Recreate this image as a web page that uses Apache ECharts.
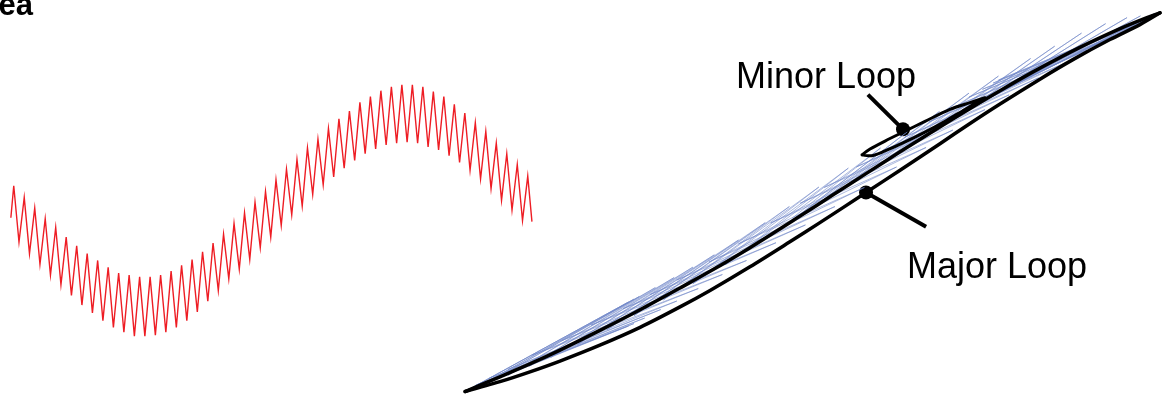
<!DOCTYPE html>
<html>
<head>
<meta charset="utf-8">
<script src="https://cdn.jsdelivr.net/npm/echarts@6/dist/echarts.min.js"></script>
<style>
  html, body { margin: 0; padding: 0; background: #ffffff; }
  #chart { width: 1163px; height: 401px; }
</style>
</head>
<body>
<div id="chart"></div>
<script>
// Sample instants (ms) of the rippled excitation: start point, then alternating ripple crests / troughs
const sampleTimes = [0.09,
  0.2,0.4,0.6,0.8,1,1.2,1.4,1.6,1.8,2,2.2,2.4,2.6,2.8,3,3.2,3.4,3.6,3.8,4,
  4.2,4.4,4.6,4.8,5,5.2,5.4,5.6,5.8,6,6.2,6.4,6.6,6.8,7,7.2,7.4,7.6,7.8,8,
  8.2,8.4,8.6,8.8,9,9.2,9.4,9.6,9.8,10,10.2,10.4,10.6,10.8,11,11.2,11.4,11.6,11.8,12,
  12.2,12.4,12.6,12.8,13,13.2,13.4,13.6,13.8,14,14.2,14.4,14.6,14.8,15,15.2,15.4,15.6,15.8,16,
  16.2,16.4,16.6,16.8,17,17.2,17.4,17.6,17.8,18,18.2,18.4,18.6,18.8,19,19.2,19.4,19.6,19.8,
  19.96];

// Normalised field H at each sample (sinusoid carrying a triangular ripple)
const fieldH = [-0.08,
  0.25,-0.33, 0.13,-0.45, 0.02,-0.56, -0.09,-0.67, -0.18,-0.77,
  -0.28,-0.88, -0.37,-0.98, -0.45,-1.06, -0.52,-1.14, -0.59,-1.21,
  -0.65,-1.26, -0.67,-1.30, -0.69,-1.30, -0.69,-1.29, -0.67,-1.26,
  -0.63,-1.21, -0.57,-1.14, -0.51,-1.05, -0.43,-0.94, -0.34,-0.83,
  -0.25,-0.71, -0.14,-0.61, -0.03,-0.51, 0.08,-0.39, 0.19,-0.28,
  0.31,-0.16, 0.42,-0.05, 0.52,0.04, 0.64,0.16, 0.73,0.26,
  0.84,0.34, 0.94,0.43, 1.02,0.51, 1.11,0.58, 1.17,0.63,
  1.23,0.67, 1.27,0.69, 1.29,0.70, 1.29,0.69, 1.27,0.65,
  1.22,0.62, 1.17,0.56, 1.09,0.49, 1.00,0.41, 0.90,0.32,
  0.81,0.22, 0.69,0.10, 0.58,0.00, 0.47,-0.11, 0.35,
  -0.12];

// Normalised flux density B reached at each of those samples (ripple-driven minor loops)
const fluxB = [-0.085,
  0.286,-0.331, 0.180,-0.431, 0.080,-0.516, -0.023,-0.600, -0.108,-0.673,
  -0.200,-0.751, -0.278,-0.819, -0.343,-0.866, -0.398,-0.914, -0.451,-0.951,
  -0.498,-0.981, -0.512,-1.000, -0.527,-1.000, -0.654,-0.989, -0.641,-0.966,
  -0.612,-0.930, -0.567,-0.883, -0.522,-0.808, -0.456,-0.731, -0.382,-0.649,
  -0.308,-0.562, -0.214,-0.488, -0.120,-0.411, -0.023,-0.316, 0.078,-0.220,
  0.186,-0.110, 0.289,-0.006, 0.381,0.078, 0.489,0.186, 0.567,0.273,
  0.657,0.343, 0.736,0.423, 0.803,0.494, 0.868,0.555, 0.908,0.596,
  0.954,0.629, 0.983,0.645, 0.998,0.586, 0.998,0.578, 0.995,0.546,
  0.984,0.521, 0.975,0.471, 0.943,0.409, 0.893,0.338, 0.824,0.258,
  0.759,0.172, 0.666,0.066, 0.576,-0.026, 0.479,-0.130, 0.372,
  -0.139];

// Major loop, descending-field (upper) branch
const majorUpperH = [-1.300,-1.170,-1.058,-0.946,-0.797,-0.647,-0.498,-0.386,-0.237,-0.050,0.073,0.196,0.323,0.446,0.569,0.696,0.845,0.994,1.144,1.237,1.293];
const majorUpperB = [-1.000,-0.922,-0.854,-0.781,-0.677,-0.568,-0.453,-0.365,-0.240,-0.073,0.039,0.151,0.266,0.375,0.482,0.589,0.708,0.818,0.917,0.971,1.000];

// Major loop, ascending-field (lower) branch
const majorLowerH = [-1.300,-1.170,-1.058,-0.946,-0.797,-0.647,-0.498,-0.386,-0.237,-0.088,0.024,0.196,0.323,0.472,0.584,0.696,0.845,0.968,1.106,1.218,1.293];
const majorLowerB = [-1.000,-0.948,-0.896,-0.839,-0.755,-0.661,-0.553,-0.466,-0.341,-0.209,-0.108,0.051,0.169,0.309,0.416,0.519,0.650,0.753,0.859,0.938,1.000];

// One highlighted minor loop
const minorLoopH = [0.181,0.211,0.267,0.334,0.416,0.509,0.584,0.640,0.565,0.491,0.416,0.334,0.267,0.211,0.181];
const minorLoopB = [0.250,0.281,0.323,0.370,0.427,0.490,0.526,0.552,0.490,0.427,0.370,0.313,0.271,0.245,0.250];

// Call-out leaders: [label end, loop end]
const minorLeaderH = [0.203, 0.334];
const minorLeaderB = [0.568, 0.385];
const majorLeaderH = [0.196, 0.420];
const majorLeaderB = [0.051, -0.130];

const labels = { minor: 'Minor Loop', major: 'Major Loop', title: 'ea' };

const zip = (a, b) => a.map((v, i) => [v, b[i]]);

const chart = echarts.init(document.getElementById('chart'), null, { renderer: 'canvas' });

const hidden = { show: false };
const loopStyle = { color: '#000000', width: 3.5, cap: 'round', join: 'round' };

chart.setOption({
  animation: false,
  backgroundColor: '#ffffff',
  grid: [
    { left: 8.5, top: 64.5, width: 524.5, height: 291 },
    { left: 438.3, top: 3.4, width: 723.6, height: 403.2 }
  ],
  xAxis: [
    { type: 'value', gridIndex: 0, min: 0, max: 20, ...hidden },
    { type: 'value', gridIndex: 1, min: -1.4, max: 1.3, ...hidden }
  ],
  yAxis: [
    { type: 'value', gridIndex: 0, min: -1.5, max: 1.5, ...hidden },
    { type: 'value', gridIndex: 1, min: -1.05, max: 1.05, ...hidden }
  ],
  series: [
    {
      name: 'excitation',
      type: 'line', xAxisIndex: 0, yAxisIndex: 0,
      data: zip(sampleTimes, fieldH),
      symbol: 'none', clip: false,
      lineStyle: { color: '#ee1d24', width: 1.4, join: 'miter' }
    },
    {
      name: 'trace',
      type: 'line', xAxisIndex: 1, yAxisIndex: 1,
      data: zip(fieldH, fluxB),
      symbol: 'none', clip: false,
      lineStyle: { color: '#7187c9', width: 0.9, opacity: 0.65 }
    },
    {
      name: 'major upper',
      type: 'line', xAxisIndex: 1, yAxisIndex: 1,
      data: zip(majorUpperH, majorUpperB),
      symbol: 'none', clip: false, smooth: 0.3,
      lineStyle: loopStyle
    },
    {
      name: 'major lower',
      type: 'line', xAxisIndex: 1, yAxisIndex: 1,
      data: zip(majorLowerH, majorLowerB),
      symbol: 'none', clip: false, smooth: 0.3,
      lineStyle: loopStyle
    },
    {
      name: 'minor loop',
      type: 'line', xAxisIndex: 1, yAxisIndex: 1,
      data: zip(minorLoopH, minorLoopB),
      symbol: 'none', clip: false, smooth: 0.3,
      lineStyle: { color: '#000000', width: 3, cap: 'round', join: 'round' }
    },
    {
      name: 'minor leader',
      type: 'line', xAxisIndex: 1, yAxisIndex: 1,
      data: zip(minorLeaderH, minorLeaderB),
      symbol: 'none', clip: false,
      lineStyle: { color: '#000000', width: 4 }
    },
    {
      name: 'major leader',
      type: 'line', xAxisIndex: 1, yAxisIndex: 1,
      data: zip(majorLeaderH, majorLeaderB),
      symbol: 'none', clip: false,
      lineStyle: { color: '#000000', width: 4 }
    },
    {
      name: 'leader dots',
      type: 'scatter', xAxisIndex: 1, yAxisIndex: 1,
      data: [[minorLeaderH[1], minorLeaderB[1]], [majorLeaderH[0], majorLeaderB[0]]],
      symbol: 'circle', symbolSize: 14, clip: false,
      itemStyle: { color: '#000000', opacity: 1 }
    }
  ],
  graphic: [
    {
      type: 'text', x: -1.5, y: 6.9,
      style: { text: labels.title, font: 'bold 31px "Liberation Sans", Arial, sans-serif', fill: '#000000', verticalAlign: 'middle', textVerticalAlign: 'middle' }
    },
    {
      type: 'text', x: 736, y: 78.5,
      style: { text: labels.minor, font: '36px "Liberation Sans", Arial, sans-serif', fill: '#000000', verticalAlign: 'middle', textVerticalAlign: 'middle' }
    },
    {
      type: 'text', x: 907, y: 268.5,
      style: { text: labels.major, font: '36px "Liberation Sans", Arial, sans-serif', fill: '#000000', verticalAlign: 'middle', textVerticalAlign: 'middle' }
    }
  ]
});
</script>
</body>
</html>
